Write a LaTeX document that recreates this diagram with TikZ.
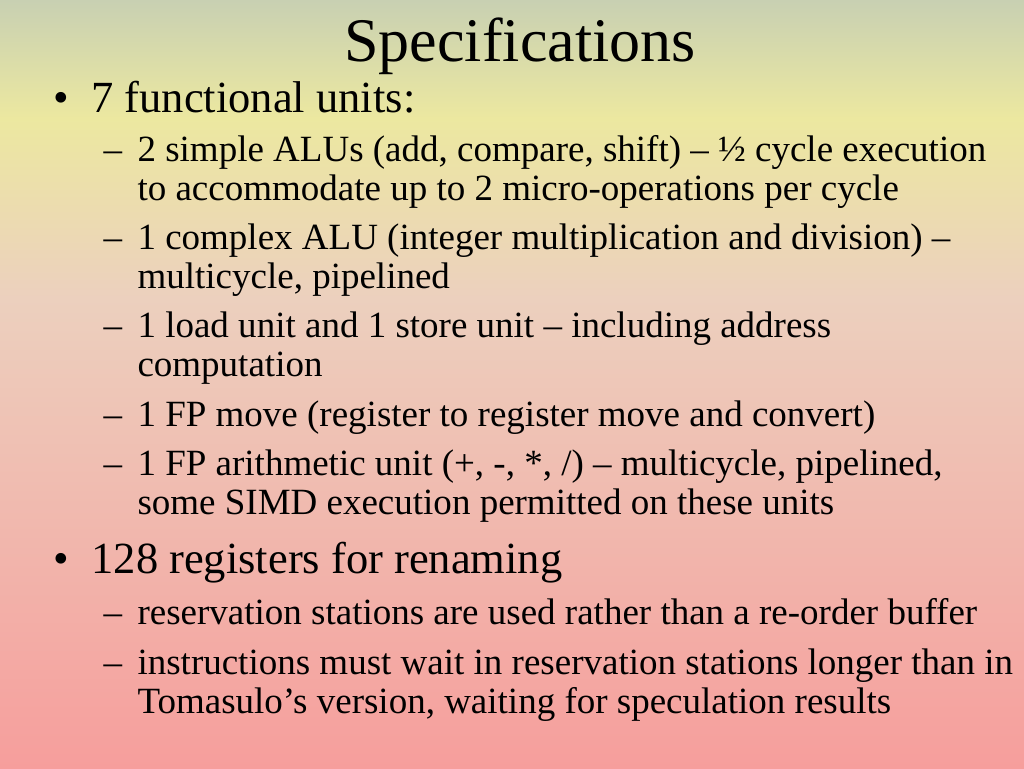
\documentclass[tikz,border=0pt]{standalone}
\usepackage{fontspec}
\setmainfont{Liberation Serif}
\usepackage{tikz}
\definecolor{bgtop}{RGB}{200,208,178}
\definecolor{bgyel}{RGB}{236,232,160}
\definecolor{bgmid}{RGB}{236,208,190}
\definecolor{bgbot}{RGB}{246,158,156}
\tikzset{
  title/.style={font=\fontsize{62}{68}\selectfont,anchor=base},
  lvlone/.style={font=\fontsize{44.5}{50}\selectfont,anchor=base west},
  lvltwo/.style={font=\fontsize{37}{42}\selectfont,anchor=base west},
}
\begin{document}
\begin{tikzpicture}[x=1pt,y=1pt]
  \useasboundingbox (0,0) rectangle (1024,768);
  % background
  \fill[bottom color=bgbot,top color=bgmid,draw=none] (0,0) rectangle (1024,470);
  \fill[bottom color=bgmid,top color=bgyel,draw=none] (0,469.5) rectangle (1024,650);
  \fill[bottom color=bgyel,top color=bgtop,draw=none] (0,649.5) rectangle (1024,768);
  % title
  \node[title] (ttl) at (520,706) {Specifications};
  % first bullet
  \node[lvlone] (bA) at (50,655) {•};
  \node[lvlone] (tA) at (88,655) {7 functional units:};
  \node[lvltwo] (dA1) at (100,606) {–};
  \node[lvltwo] (tA1) at (134,606) {2 simple ALUs (add, compare, shift) – ½ cycle execution};
  \node[lvltwo] (tA1b) at (134,567) {to accommodate up to 2 micro-operations per cycle};
  \node[lvltwo] (dA2) at (100,518) {–};
  \node[lvltwo] (tA2) at (134,518) {1 complex ALU (integer multiplication and division) –};
  \node[lvltwo] (tA2b) at (134,479) {multicycle, pipelined};
  \node[lvltwo] (dA3) at (100,430) {–};
  \node[lvltwo] (tA3) at (134,430) {1 load unit and 1 store unit – including address};
  \node[lvltwo] (tA3b) at (134,391) {computation};
  \node[lvltwo] (dA4) at (100,341) {–};
  \node[lvltwo] (tA4) at (134,341) {1 FP move (register to register move and convert)};
  \node[lvltwo] (dA5) at (100,292) {–};
  \node[lvltwo] (tA5) at (134,292) {1 FP arithmetic unit (+, -, *, /) – multicycle, pipelined,};
  \node[lvltwo] (tA5b) at (134,253) {some SIMD execution permitted on these units};
  % second bullet
  \node[lvlone] (bB) at (50,194) {•};
  \node[lvlone] (tB) at (88,194) {128 registers for renaming};
  \node[lvltwo] (dB1) at (100,143) {–};
  \node[lvltwo] (tB1) at (134,143) {reservation stations are used rather than a re-order buffer};
  \node[lvltwo] (dB2) at (100,94) {–};
  \node[lvltwo] (tB2) at (134,94) {instructions must wait in reservation stations longer than in};
  \node[lvltwo] (tB2b) at (134,55) {Tomasulo’s version, waiting for speculation results};
\end{tikzpicture}
\end{document}
